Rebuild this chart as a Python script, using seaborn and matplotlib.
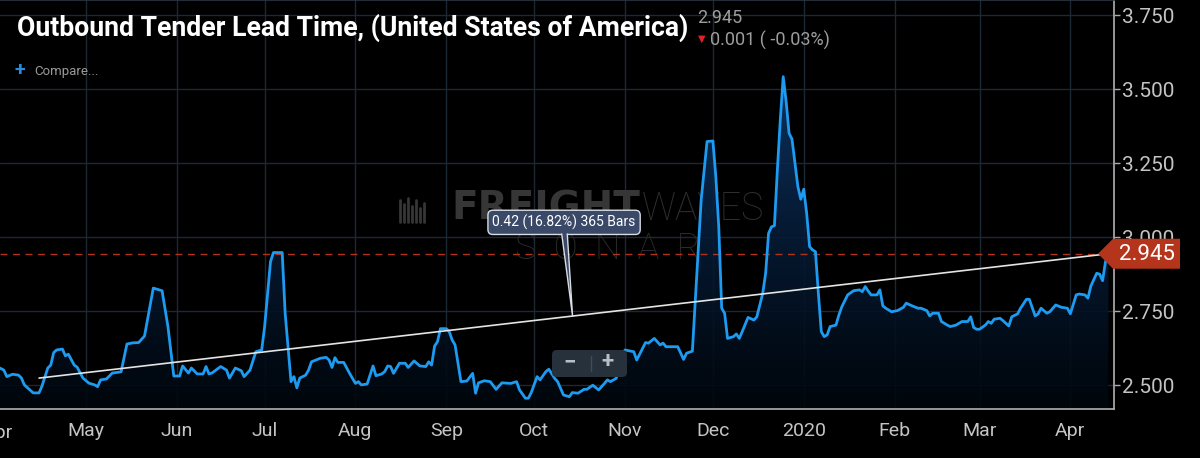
import numpy as np
import pandas as pd
import seaborn as sns
import matplotlib.pyplot as plt
import matplotlib.dates as mdates
from matplotlib.colors import LinearSegmentedColormap
from matplotlib.patches import FancyBboxPatch, Polygon
from matplotlib.ticker import FuncFormatter, FormatStrFormatter

# values (days after 2019-04-01, lead time in days)
START = pd.Timestamp("2019-04-01")
DAY_OFFSETS = [
    0, 2, 3, 5, 7, 8, 9, 12, 14, 15, 17, 18, 19, 20, 22, 23, 24, 26, 27, 29,
    31, 33, 34, 35, 37, 39, 42, 44, 46, 48, 50, 51, 53, 56, 58, 60, 62, 63, 65, 66,
    68, 70, 71, 72, 73, 76, 78, 79, 81, 83, 84, 86, 88, 90, 91, 93, 94, 97, 98, 100,
    101, 102, 103, 105, 106, 107, 109, 110, 112, 113, 114, 115, 116, 118, 120, 122, 123, 124, 126, 128,
    129, 131, 132, 133, 134, 135, 137, 139, 140, 142, 144, 146, 147, 148, 149, 150, 151, 153, 154, 155,
    156, 158, 160, 162, 163, 164, 166, 168, 170, 172, 175, 177, 178, 180, 181, 182, 184, 185, 187, 188,
    190, 191, 193, 195, 196, 198, 200, 201, 203, 205, 207, 208, 209, 211, 212, 213, 214, 217, 218, 221,
    222, 224, 226, 227, 228, 232, 234, 235, 237, 238, 240, 242, 244, 245, 246, 247, 248, 249, 251, 252,
    253, 254, 256, 258, 259, 261, 262, 263, 264, 265, 266, 267, 268, 269, 270, 271, 272, 273, 274, 275,
    276, 277, 278, 279, 280, 281, 282, 283, 284, 286, 287, 288, 290, 292, 294, 295, 296, 297, 298, 300,
    301, 302, 303, 305, 307, 309, 310, 312, 314, 315, 317, 318, 319, 321, 322, 324, 325, 327, 329, 331,
    332, 333, 334, 335, 337, 338, 339, 340, 342, 343, 345, 346, 348, 349, 351, 352, 354, 355, 356, 358,
    359, 361, 363, 365, 366, 368, 369, 371, 372, 373, 375, 376, 377, 378, 379,
]
LEAD_TIME = [
    2.562, 2.552, 2.530, 2.538, 2.535, 2.525, 2.502, 2.475, 2.475, 2.498, 2.559, 2.569, 2.611, 2.620, 2.623, 2.600, 2.606, 2.569, 2.562, 2.525,
    2.508, 2.502, 2.496, 2.519, 2.522, 2.542, 2.546, 2.640, 2.644, 2.645, 2.667, 2.721, 2.829, 2.820, 2.699, 2.532, 2.532, 2.566, 2.542, 2.559,
    2.539, 2.539, 2.564, 2.539, 2.542, 2.564, 2.552, 2.525, 2.559, 2.550, 2.530, 2.552, 2.614, 2.620, 2.699, 2.918, 2.949, 2.949, 2.745, 2.513,
    2.530, 2.492, 2.525, 2.535, 2.552, 2.580, 2.588, 2.592, 2.595, 2.586, 2.561, 2.594, 2.578, 2.578, 2.541, 2.507, 2.513, 2.502, 2.505, 2.566,
    2.533, 2.539, 2.547, 2.566, 2.564, 2.541, 2.575, 2.575, 2.561, 2.583, 2.566, 2.564, 2.580, 2.569, 2.633, 2.648, 2.692, 2.692, 2.682, 2.654,
    2.637, 2.513, 2.515, 2.541, 2.474, 2.509, 2.516, 2.513, 2.487, 2.509, 2.507, 2.513, 2.485, 2.457, 2.457, 2.476, 2.530, 2.519, 2.547, 2.555,
    2.524, 2.513, 2.468, 2.462, 2.476, 2.474, 2.487, 2.487, 2.501, 2.485, 2.507, 2.519, 2.513, 2.524, 2.560, 2.600, 2.620, 2.614, 2.586, 2.645,
    2.643, 2.659, 2.637, 2.643, 2.631, 2.631, 2.588, 2.609, 2.616, 2.789, 3.127, 3.324, 3.326, 3.205, 3.036, 2.761, 2.744, 2.659, 2.665, 2.674,
    2.659, 2.682, 2.730, 2.721, 2.732, 2.811, 2.879, 3.014, 3.036, 3.040, 3.228, 3.397, 3.543, 3.459, 3.352, 3.332, 3.251, 3.172, 3.129, 3.163,
    3.082, 2.969, 2.958, 2.952, 2.811, 2.682, 2.665, 2.671, 2.699, 2.704, 2.738, 2.766, 2.806, 2.820, 2.823, 2.817, 2.834, 2.819, 2.806, 2.806,
    2.823, 2.769, 2.761, 2.749, 2.753, 2.764, 2.778, 2.769, 2.761, 2.761, 2.753, 2.735, 2.744, 2.744, 2.716, 2.704, 2.699, 2.704, 2.716, 2.716,
    2.732, 2.696, 2.690, 2.690, 2.704, 2.716, 2.710, 2.724, 2.727, 2.719, 2.701, 2.732, 2.742, 2.761, 2.791, 2.791, 2.735, 2.742, 2.761, 2.744,
    2.749, 2.772, 2.764, 2.761, 2.742, 2.806, 2.809, 2.806, 2.795, 2.836, 2.879, 2.876, 2.854, 2.918, 2.945,
]

Y_TICKS = [2.500, 2.750, 3.000, 3.250, 3.500, 3.750]
LAST_VALUE = 2.945
CHANGE_TEXT = "0.001 ( -0.03%)"
TREND_DAYS = [14, 379]
TREND_VALUES = [2.525, 2.945]
MEASURE_LABEL = "0.42 (16.82%) 365 Bars"
TITLE = "Outbound Tender Lead Time, (United States of America)"

W, H = 1200, 458

sns.set_theme(style="dark")
plt.rcParams["font.family"] = ["Roboto", "DejaVu Sans"]

df = pd.DataFrame({"date": START + pd.to_timedelta(DAY_OFFSETS, unit="D"), "lead": LEAD_TIME})
t0 = mdates.date2num(START)


def fig_xy(px, py):
    # screen pixel -> figure fraction
    return px / W, 1 - py / H


fig = plt.figure(figsize=(W / 100, H / 100), dpi=100, facecolor="black")
ax = fig.add_axes([0, 49 / H, 1114 / W, 409 / H])
ax.set_facecolor("black")

xlo, xhi = t0 + 0.68, t0 + 380.9
ylo, yhi = 2.4206, 3.802

# gradient area under the line
cmap = LinearSegmentedColormap.from_list("sonar", ["#01060c", "#061c37", "#0e3a6e"])
grad = np.linspace(0, 1, 256).reshape(-1, 1)
im = ax.imshow(grad, extent=[xlo, xhi, ylo, 3.6], origin="lower", aspect="auto",
               cmap=cmap, zorder=1, alpha=0.9)
area = ax.fill_between(df["date"], df["lead"], ylo, facecolor="none", edgecolor="none")
im.set_clip_path(area.get_paths()[0], transform=ax.transData)

sns.lineplot(data=df, x="date", y="lead", ax=ax, color="#1d9bf0", linewidth=2, zorder=4)

ax.hlines(LAST_VALUE, xlo, t0 + TREND_DAYS[1] + 0.5, color="#b3321c", lw=1,
          linestyles=(0, (5, 4)), zorder=3)
ax.plot([t0 + d for d in TREND_DAYS], TREND_VALUES, color="#e4e4e4", lw=1.2, zorder=5)

ax.set_xlim(xlo, xhi)
ax.set_ylim(ylo, yhi)
ax.set_xlabel("")
ax.set_ylabel("")

ax.xaxis.set_major_locator(mdates.MonthLocator())
ax.xaxis.set_major_formatter(FuncFormatter(
    lambda v, pos: "2020" if mdates.num2date(v).month == 1 else mdates.num2date(v).strftime("%b")))
ax.yaxis.tick_right()
ax.set_yticks(Y_TICKS)
ax.yaxis.set_major_formatter(FormatStrFormatter("%.3f"))
ax.tick_params(axis="x", colors="#aaaaaa", labelcolor="#c4c4c4", labelsize=14, length=4, width=1, pad=5)
ax.tick_params(axis="y", colors="#aaaaaa", labelcolor="#c4c4c4", labelsize=15, length=4, width=1, pad=2)
ax.grid(True, color="#1c2834", lw=1)
ax.set_axisbelow(True)
ax.spines["left"].set_visible(False)
ax.spines["top"].set_color("#2a3644")
for side in ["bottom", "right"]:
    ax.spines[side].set_color("#b0b0b0")
    ax.spines[side].set_linewidth(1.2)

# first month label sits just outside the left edge
ax.text(t0, -0.0587, "Apr", transform=ax.get_xaxis_transform(), ha="center", va="center",
        color="#c4c4c4", fontsize=14, clip_on=False)

# watermark
wm = dict(transform=fig.transFigure, va="center", zorder=0.6)
ax.text(*fig_xy(640, 209), "FREIGHT", ha="right", fontsize=28, weight="bold",
        family="DejaVu Sans", color="#363636", **wm)
ax.text(*fig_xy(642, 209), "WAVES", ha="left", fontsize=27, weight="light",
        color="#2e2e2e", **wm)
ax.text(*fig_xy(608, 249), "S  O  N  A  R", ha="center", fontsize=26, weight="light",
        color="#2c2c2c", **wm)
for i, top in enumerate([200, 204, 198, 206, 200, 208, 203]):
    ax.plot([fig_xy(400 + 4 * i, 0)[0]] * 2, [fig_xy(0, top)[1], fig_xy(0, 222)[1]],
            transform=fig.transFigure, color="#363636", lw=2, zorder=0.6)

# measurement callout
ax.text(t0 + 193.2, 3.051, MEASURE_LABEL, ha="center", va="center", fontsize=10,
        color="white", zorder=6,
        bbox=dict(boxstyle="round,pad=0.32,rounding_size=0.35", fc="#3a4968", ec="#d8dce4", lw=1))
tip_v = TREND_VALUES[0] + (TREND_VALUES[1] - TREND_VALUES[0]) * (196.1 - TREND_DAYS[0]) / (TREND_DAYS[1] - TREND_DAYS[0])
ax.add_patch(Polygon([(t0 + 192.4, 3.017), (t0 + 194.3, 3.017), (t0 + 196.1, tip_v)],
                     closed=True, fc="#3a4968", ec="none", zorder=7))
ax.plot([t0 + 192.4, t0 + 196.1, t0 + 194.3], [3.012, tip_v, 3.012], color="#d8dce4", lw=1, zorder=7)

# zoom buttons
fig.add_artist(FancyBboxPatch(fig_xy(552, 377), 75 / W, 27 / H, transform=fig.transFigure,
                              boxstyle="round,pad=0,rounding_size=0.004", mutation_aspect=W / H,
                              fc="#26313c", ec="none"))
fig.text(*fig_xy(570, 362), "\u2212", color="#b9bec4", fontsize=16, weight="bold", ha="center", va="center")
fig.add_artist(plt.Line2D([591 / W, 591 / W], [1 - 356 / H, 1 - 371 / H], color="#3d4d60", lw=1))
fig.text(*fig_xy(607, 362), "+", color="#b9bec4", fontsize=16, weight="bold", ha="center", va="center")

# last price tag on the right axis
px_last = ax.transData.transform((xhi, LAST_VALUE))[1]
ty = H - px_last
tag = [(1098, ty), (1113, ty - 15), (1180, ty - 15), (1180, ty + 15), (1113, ty + 15)]
fig.add_artist(Polygon([fig_xy(x, y) for x, y in tag], closed=True, transform=fig.transFigure,
                       fc="#b5341c", ec="none", joinstyle="round"))
fig.text(*fig_xy(1147, ty + 0.5), f"{LAST_VALUE:.3f}", color="white", fontsize=16,
         ha="center", va="center")

# header: the screenshot uses a condensed face, so fit the bold title to its width
title = fig.text(*fig_xy(17, 36), TITLE, weight="bold", fontsize=20, color="white", va="baseline")
renderer = fig.canvas.get_renderer()
title_w = title.get_window_extent(renderer).width
title.set_fontsize(20 * 671 / title_w)

fig.text(*fig_xy(697, 18), f"{LAST_VALUE:.3f}", color="#9d9d9d", fontsize=13, va="center")
fig.text(*fig_xy(702, 39), "\u25bc", family="DejaVu Sans", color="#e0202a", fontsize=7,
         ha="center", va="center")
fig.text(*fig_xy(710, 40), CHANGE_TEXT, color="#9d9d9d", fontsize=13, va="center")
fig.text(*fig_xy(20, 70), "+", color="#2a8be0", fontsize=14, weight="bold", ha="center", va="center")
fig.text(*fig_xy(34, 71), "Compare...", color="#9a9a9a", fontsize=9.5, va="center")

fig.savefig("out.png", dpi=100, facecolor="black")
